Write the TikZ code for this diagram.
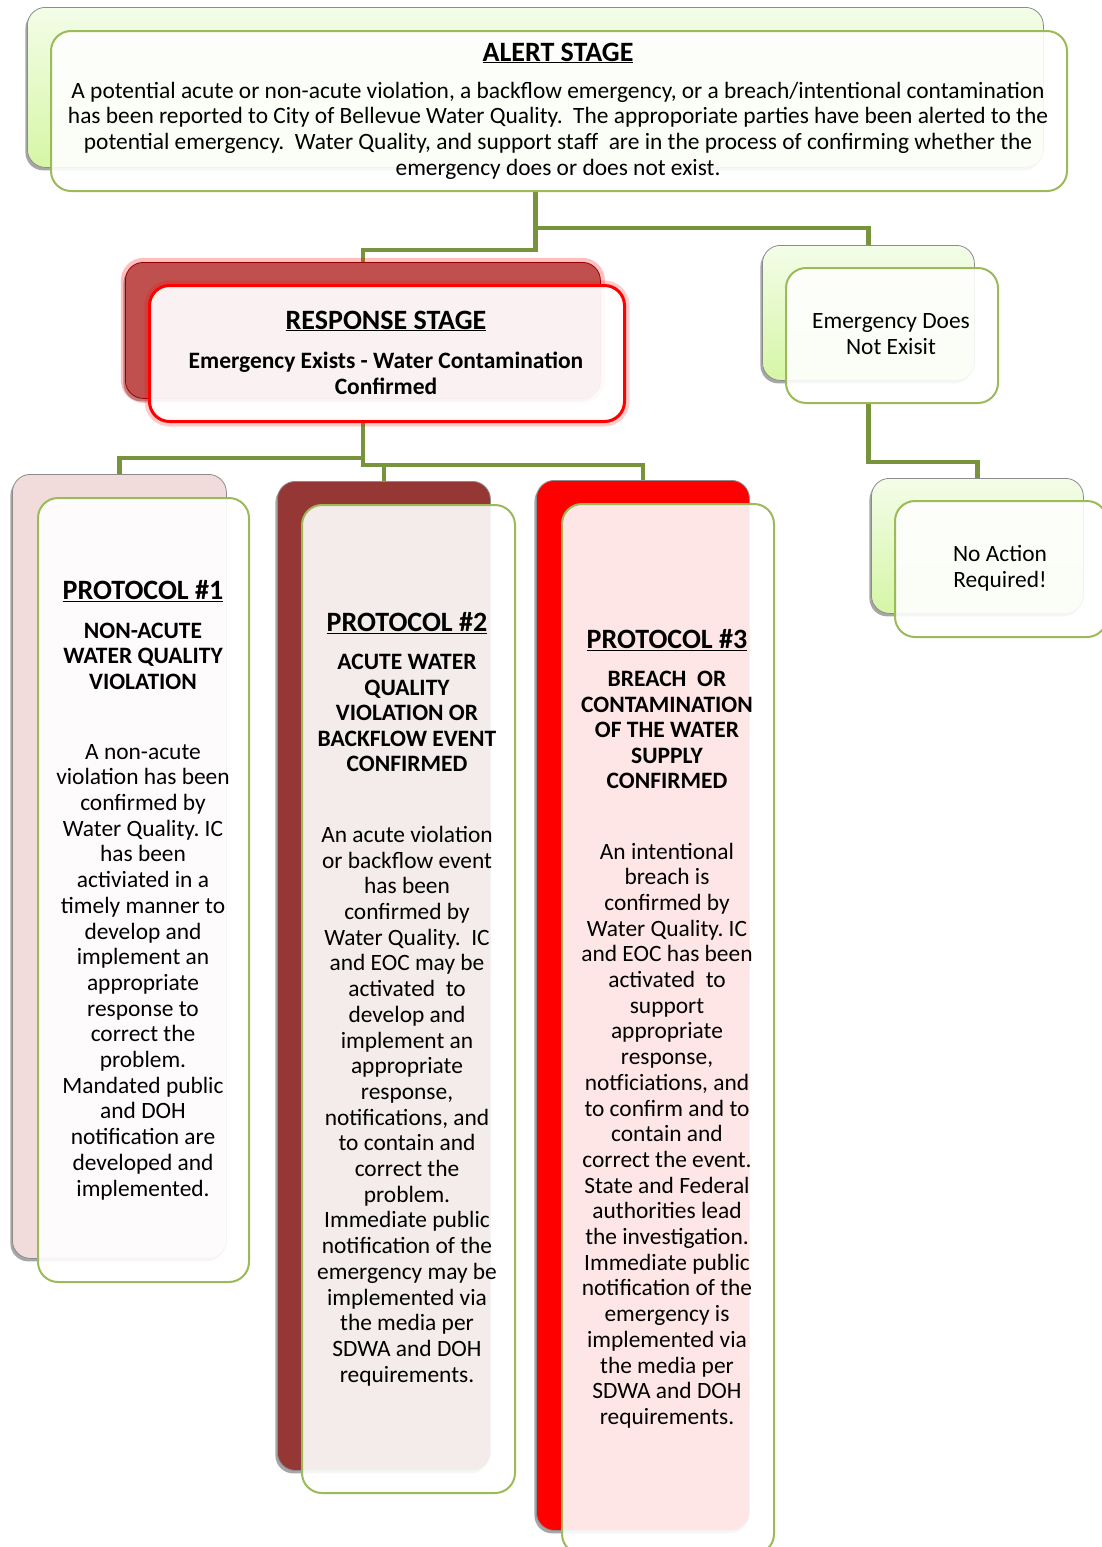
\documentclass[tikz,border=0pt]{standalone}
\usepackage{fontspec}
\setmainfont{Carlito}
\frenchspacing
\usetikzlibrary{shadows,calc,backgrounds}
\definecolor{gborder}{HTML}{9BBB59}
\definecolor{connc}{HTML}{77933C}
\definecolor{greenA}{HTML}{F3FDE8}
\definecolor{greenB}{HTML}{D6F6A6}
\definecolor{pinkback}{HTML}{F2DCDB}
\definecolor{maroon}{HTML}{953735}
\definecolor{respback}{HTML}{C0504D}
\tikzset{
  backbox/.style={rounded corners=18pt, draw=black!45, line width=0.8pt, inner sep=0pt,
    drop shadow={shadow xshift=-2pt, shadow yshift=-3pt, opacity=0.35, fill=black}},
  greenback/.style={backbox, top color=greenA, bottom color=greenB},
  frontbox/.style={rounded corners=20pt, draw=gborder, line width=2pt, fill=white, fill opacity=0.9, inner sep=0pt},
  link/.style={draw=connc, line width=4.5pt},
  body/.style={align=center, font=\fontsize{23.4}{25.7}\selectfont, inner sep=0pt, text=black},
  sub/.style={align=center, font=\bfseries\fontsize{23.5}{25.5}\selectfont, inner sep=0pt, text=black},
  ttl/.style={font=\bfseries\fontsize{28}{30}\selectfont, inner sep=0pt, text=black},
}
\begin{document}
\begin{tikzpicture}[x=1pt,y=-1pt]
\useasboundingbox (0,0) rectangle (1101,1547);

% ---- back boxes ----
\node[greenback, minimum width=1016pt, minimum height=160pt, anchor=north west] (alertB) at (27,7) {};
\node[greenback, minimum width=212pt, minimum height=135pt, anchor=north west] (ednB) at (762,245) {};
\node[greenback, minimum width=212pt, minimum height=135pt, anchor=north west] (naB) at (871,478) {};
\node[backbox, fill=respback, draw=red!60!black, preaction={draw=red, line width=9pt, draw opacity=0.25}, minimum width=475pt, minimum height=136pt, anchor=north west] (respB) at (125,262) {};
\node[backbox, fill=pinkback, minimum width=214pt, minimum height=784pt, anchor=north west] (p1B) at (12,474) {};
\node[backbox, fill=maroon, minimum width=213pt, minimum height=989pt, anchor=north west] (p2B) at (277,481) {};
\node[backbox, fill=red, minimum width=213pt, minimum height=1050pt, anchor=north west] (p3B) at (536,480) {};

% ---- front boxes ----
\node[frontbox, minimum width=1016pt, minimum height=160pt, anchor=north west] (alertF) at (50,30) {};
\node[frontbox, minimum width=212pt, minimum height=135pt, anchor=north west] (ednF) at (785,267) {};
\node[frontbox, minimum width=212pt, minimum height=136pt, anchor=north west] (naF) at (894,500) {};
\node[frontbox, fill opacity=0.93, draw=red, line width=3pt, preaction={draw=red, line width=10pt, draw opacity=0.2}, minimum width=475pt, minimum height=136pt, anchor=north west] (respF) at (148,284) {};
\node[frontbox, minimum width=211pt, minimum height=784pt, anchor=north west] (p1F) at (37,497) {};
\node[frontbox, minimum width=213pt, minimum height=988pt, anchor=north west] (p2F) at (301,504) {};
\node[frontbox, minimum width=212pt, minimum height=1050pt, anchor=north west] (p3F) at (561,503) {};

% ---- connectors, behind the boxes ----
\begin{scope}[on background layer]
\fill[white] (0,0) rectangle (1101,1547);
\coordinate (a1) at (alertB.center |- alertF.south);
\draw[link] (a1) -- ++(0,58) -| (respB.north);
\draw[link] (a1) -- ++(0,36) -| (ednB.north);
\coordinate (r1) at (respB.center |- respF.south);
\coordinate (r2) at ($(r1)+(0,42)$);
\draw[link] (r1) -- ++(0,35) -| (p1B.north);
\draw[link] (r1) -- (r2) -| (p3B.north);
\draw[link] (p2B.north) -- (p2B.north |- r2);
\coordinate (e1) at (ednB.center |- ednF.south);
\draw[link] (e1) -- ++(0,58) -| (naB.north);
\end{scope}

% ---- texts ----
\node[ttl] (alertT) at (558,53) {\underline{ALERT STAGE}};
\node[body] (alertX) at (558,130.5) {A potential acute or non-acute violation, a backflow emergency, or a breach/intentional contamination\\
has been reported to City of Bellevue Water Quality.\ \ The approporiate parties have been alerted to the\\
potential emergency.\ \ Water Quality, and support staff\ \ are in the process of confirming whether the\\
emergency does or does not exist.};

\node[ttl] (respT) at (386,321) {\underline{RESPONSE STAGE}};
\node[sub] (respX) at (386,373.5) {Emergency Exists - Water Contamination\\Confirmed};

\node[body] (ednX) at (891,334) {Emergency Does\\Not Exisit};
\node[body] (naX) at (1000,568) {No Action\\Required!};

\node[ttl] (p1T) at (143,591) {\underline{PROTOCOL \#1}};
\node[sub] (p1S) at (143,656) {NON-ACUTE\\WATER QUALITY\\VIOLATION};
\node[body] (p1X) at (143,972) {A non-acute\\violation has been\\confirmed by\\Water Quality. IC\\has been\\activiated in a\\timely manner to\\develop and\\implement an\\appropriate\\response to\\correct the\\problem.\\Mandated public\\and DOH\\notification are\\developed and\\implemented.};

\node[ttl] (p2T) at (407,623) {\underline{PROTOCOL \#2}};
\node[sub] (p2S) at (407,713) {ACUTE WATER\\QUALITY\\VIOLATION OR\\BACKFLOW EVENT\\CONFIRMED};
\node[body] (p2X) at (407,1106) {An acute violation\\or backflow event\\has been\\confirmed by\\Water Quality.\ \ IC\\and EOC may be\\activated\ \ to\\develop and\\implement an\\appropriate\\response,\\notifications, and\\to contain and\\correct the\\problem.\\Immediate public\\notification of the\\emergency may be\\implemented via\\the media per\\SDWA and DOH\\requirements.};

\node[ttl] (p3T) at (667,640) {\underline{PROTOCOL \#3}};
\node[sub] (p3S) at (667,730) {BREACH\ \ OR\\CONTAMINATION\\OF THE WATER\\SUPPLY\\CONFIRMED};
\node[body] (p3X) at (667,1135.5) {An intentional\\breach is\\confirmed by\\Water Quality. IC\\and EOC has been\\activated\ \ to\\support\\appropriate\\response,\\notficiations, and\\to confirm and to\\contain and\\correct the event.\\State and Federal\\authorities lead\\the investigation.\\Immediate public\\notification of the\\emergency is\\implemented via\\the media per\\SDWA and DOH\\requirements.};
\end{tikzpicture}
\end{document}
